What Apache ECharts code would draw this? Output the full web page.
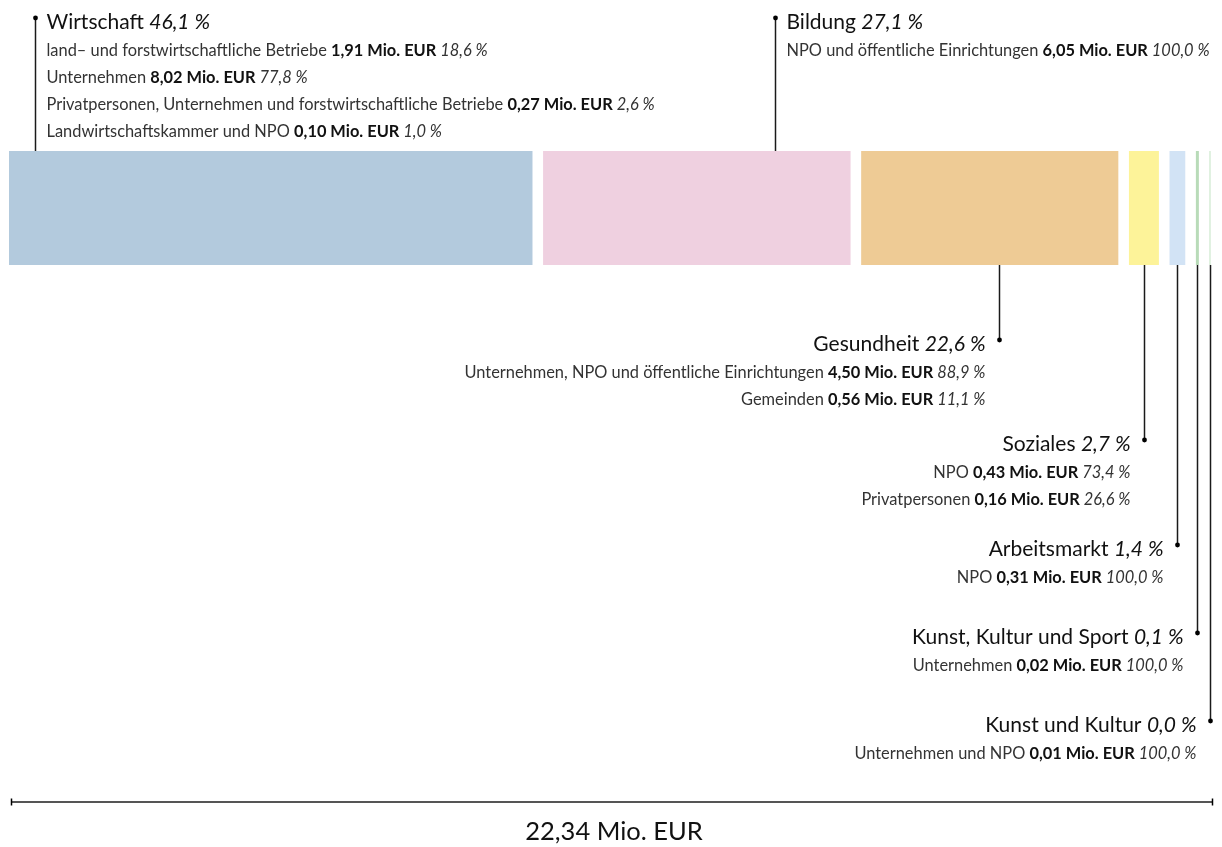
<!DOCTYPE html>
<html>
<head>
<meta charset="utf-8">
<script src="https://cdn.jsdelivr.net/npm/echarts@6/dist/echarts.min.js"></script>
<style>
html,body{margin:0;padding:0;background:#fff;}
#chart{width:1222px;height:847px;}
</style>
</head>
<body>
<div id="chart"></div>
<script>
// ---- data ----
const categories = ['Wirtschaft', 'Bildung', 'Gesundheit', 'Soziales', 'Arbeitsmarkt', 'Kunst, Kultur und Sport', 'Kunst und Kultur'];
const categoryShares = [46.1, 27.1, 22.6, 2.7, 1.4, 0.1, 0.0];
const breakdownCategory = [0, 0, 0, 0, 1, 2, 2, 3, 3, 4, 5, 6];
const breakdownNames = [
  'land\u2013 und forstwirtschaftliche Betriebe',
  'Unternehmen',
  'Privatpersonen, Unternehmen und forstwirtschaftliche Betriebe',
  'Landwirtschaftskammer und NPO',
  'NPO und öffentliche Einrichtungen',
  'Unternehmen, NPO und öffentliche Einrichtungen',
  'Gemeinden',
  'NPO',
  'Privatpersonen',
  'NPO',
  'Unternehmen',
  'Unternehmen und NPO'
];
const breakdownValues = [1.91, 8.02, 0.27, 0.10, 6.05, 4.50, 0.56, 0.43, 0.16, 0.31, 0.02, 0.01];
const breakdownShares = [18.6, 77.8, 2.6, 1.0, 100.0, 88.9, 11.1, 73.4, 26.6, 100.0, 100.0, 100.0];
const unit = 'Mio. EUR';

// ---- layout / style (kept separate from data) ----
const colors = ['#b3cadd', '#efd0e0', '#eecb95', '#fdf399', '#d2e3f5', '#b8dbb8', '#c3e3c3'];
const anchorFrac = [0.05, 0.755, 0.535, 0.5, 0.5, 0.5, 0.5];
const minWidth = [1, 1, 1, 1, 1, 3, 1];
const labelSide = ['top', 'top', 'bottom', 'bottom', 'bottom', 'bottom', 'bottom'];
const labelDotY = [18, 18, 340, 440, 545, 633, 721];
const GAP = 10.6;
const FONT = 'Lato, "Open Sans", sans-serif';
const LINE_H = 27;
const TITLE_SIZE = 21;
const SUB_SIZE = 16.4;

// ---- derived ----
const fmt = (v, d) => v.toFixed(d).replace('.', ',');
const catValues = categories.map((c, i) =>
  breakdownValues.reduce((s, v, j) => s + (breakdownCategory[j] === i ? v : 0), 0));
const total = catValues.reduce((a, b) => a + b, 0);
let cum = 0;
const segData = catValues.map((v, i) => { const s = cum; cum += v; return [s, cum, i]; });

function renderSeg(params, api) {
  const cs = params.coordSys;
  const n = categories.length;
  const k = (cs.width - GAP * (n - 1) - 3) / cs.width;
  const idx = api.value(2);
  const a = api.coord([api.value(0), 0])[0];
  const b = api.coord([api.value(1), 0])[0];
  const x0 = cs.x + (a - cs.x) * k + idx * GAP + (idx > 5 ? 2 : 0);
  const w = Math.max((b - a) * k, minWidth[idx]);
  const top = cs.y, bot = cs.y + cs.height;
  const ax = Math.round(x0 + w * anchorFrac[idx]) + 0.5;
  const side = labelSide[idx];
  const dy = labelDotY[idx];
  const children = [];
  children.push({ type: 'rect', shape: { x: x0, y: top, width: w, height: cs.height }, style: { fill: colors[idx] } });
  children.push({ type: 'line', shape: { x1: ax, y1: side === 'top' ? top : bot, x2: ax, y2: dy },
    style: { stroke: '#1a1a1a', lineWidth: 1.5 } });
  children.push({ type: 'circle', shape: { cx: ax, cy: dy, r: 2.4 }, style: { fill: '#000' } });
  const align = side === 'top' ? 'left' : 'right';
  const tx = side === 'top' ? ax + 11 : ax - 14;
  const titleY = dy + 4;
  children.push({ type: 'text', style: {
    x: tx, y: titleY, align: align, verticalAlign: 'middle',
    text: '{t|' + categories[idx] + ' }{p|' + fmt(categoryShares[idx], 1) + ' %}',
    rich: {
      t: { fontFamily: FONT, fontSize: TITLE_SIZE, fill: '#111' },
      p: { fontFamily: FONT, fontSize: TITLE_SIZE, fontStyle: 'italic', fill: '#111' }
    }
  } });
  let line = 1;
  breakdownCategory.forEach((c, j) => {
    if (c !== idx) return;
    children.push({ type: 'text', style: {
      x: tx, y: titleY + 1.5 + LINE_H * line, align: align, verticalAlign: 'middle',
      text: '{n|' + breakdownNames[j] + ' }{b|' + fmt(breakdownValues[j], 2) + ' ' + unit + ' }{i|' + fmt(breakdownShares[j], 1) + ' %}',
      rich: {
        n: { fontFamily: FONT, fontSize: SUB_SIZE, fill: '#333' },
        b: { fontFamily: FONT, fontSize: SUB_SIZE, fontWeight: 'bold', fill: '#111' },
        i: { fontFamily: FONT, fontSize: SUB_SIZE, fontStyle: 'italic', fill: '#333' }
      }
    } });
    line++;
  });
  return { type: 'group', children: children };
}

function renderTotal(params, api) {
  const x1 = api.coord([api.value(0), 0])[0] + 2;
  const x2 = api.coord([api.value(1), 0])[0] + 2;
  const y = 802;
  return { type: 'group', children: [
    { type: 'line', shape: { x1: x1, y1: y, x2: x2, y2: y }, style: { stroke: '#555', lineWidth: 2 } },
    { type: 'line', shape: { x1: x1 + 0.5, y1: y - 3.5, x2: x1 + 0.5, y2: y + 3.5 }, style: { stroke: '#000', lineWidth: 1.5 } },
    { type: 'line', shape: { x1: x2 - 0.5, y1: y - 3.5, x2: x2 - 0.5, y2: y + 3.5 }, style: { stroke: '#000', lineWidth: 1.5 } },
    { type: 'text', style: { x: (x1 + x2) / 2 + 2, y: 832, align: 'center', verticalAlign: 'middle',
      text: fmt(api.value(1) - api.value(0), 2) + ' ' + unit,
      fontFamily: FONT, fontSize: 25.5, fill: '#111' } }
  ] };
}

const chart = echarts.init(document.getElementById('chart'), null, { renderer: 'canvas' });
chart.setOption({
  animation: false,
  grid: { left: 9, right: 11, top: 151, height: 114 },
  xAxis: { type: 'value', min: 0, max: total, show: false },
  yAxis: { type: 'category', data: ['Gesamt'], show: false },
  series: [
    { type: 'custom', renderItem: renderSeg, data: segData, encode: { x: [0, 1], y: 2 }, silent: true, clip: false },
    { type: 'custom', renderItem: renderTotal, data: [[0, total]], encode: { x: [0, 1] }, silent: true, clip: false }
  ]
});
</script>
</body>
</html>
